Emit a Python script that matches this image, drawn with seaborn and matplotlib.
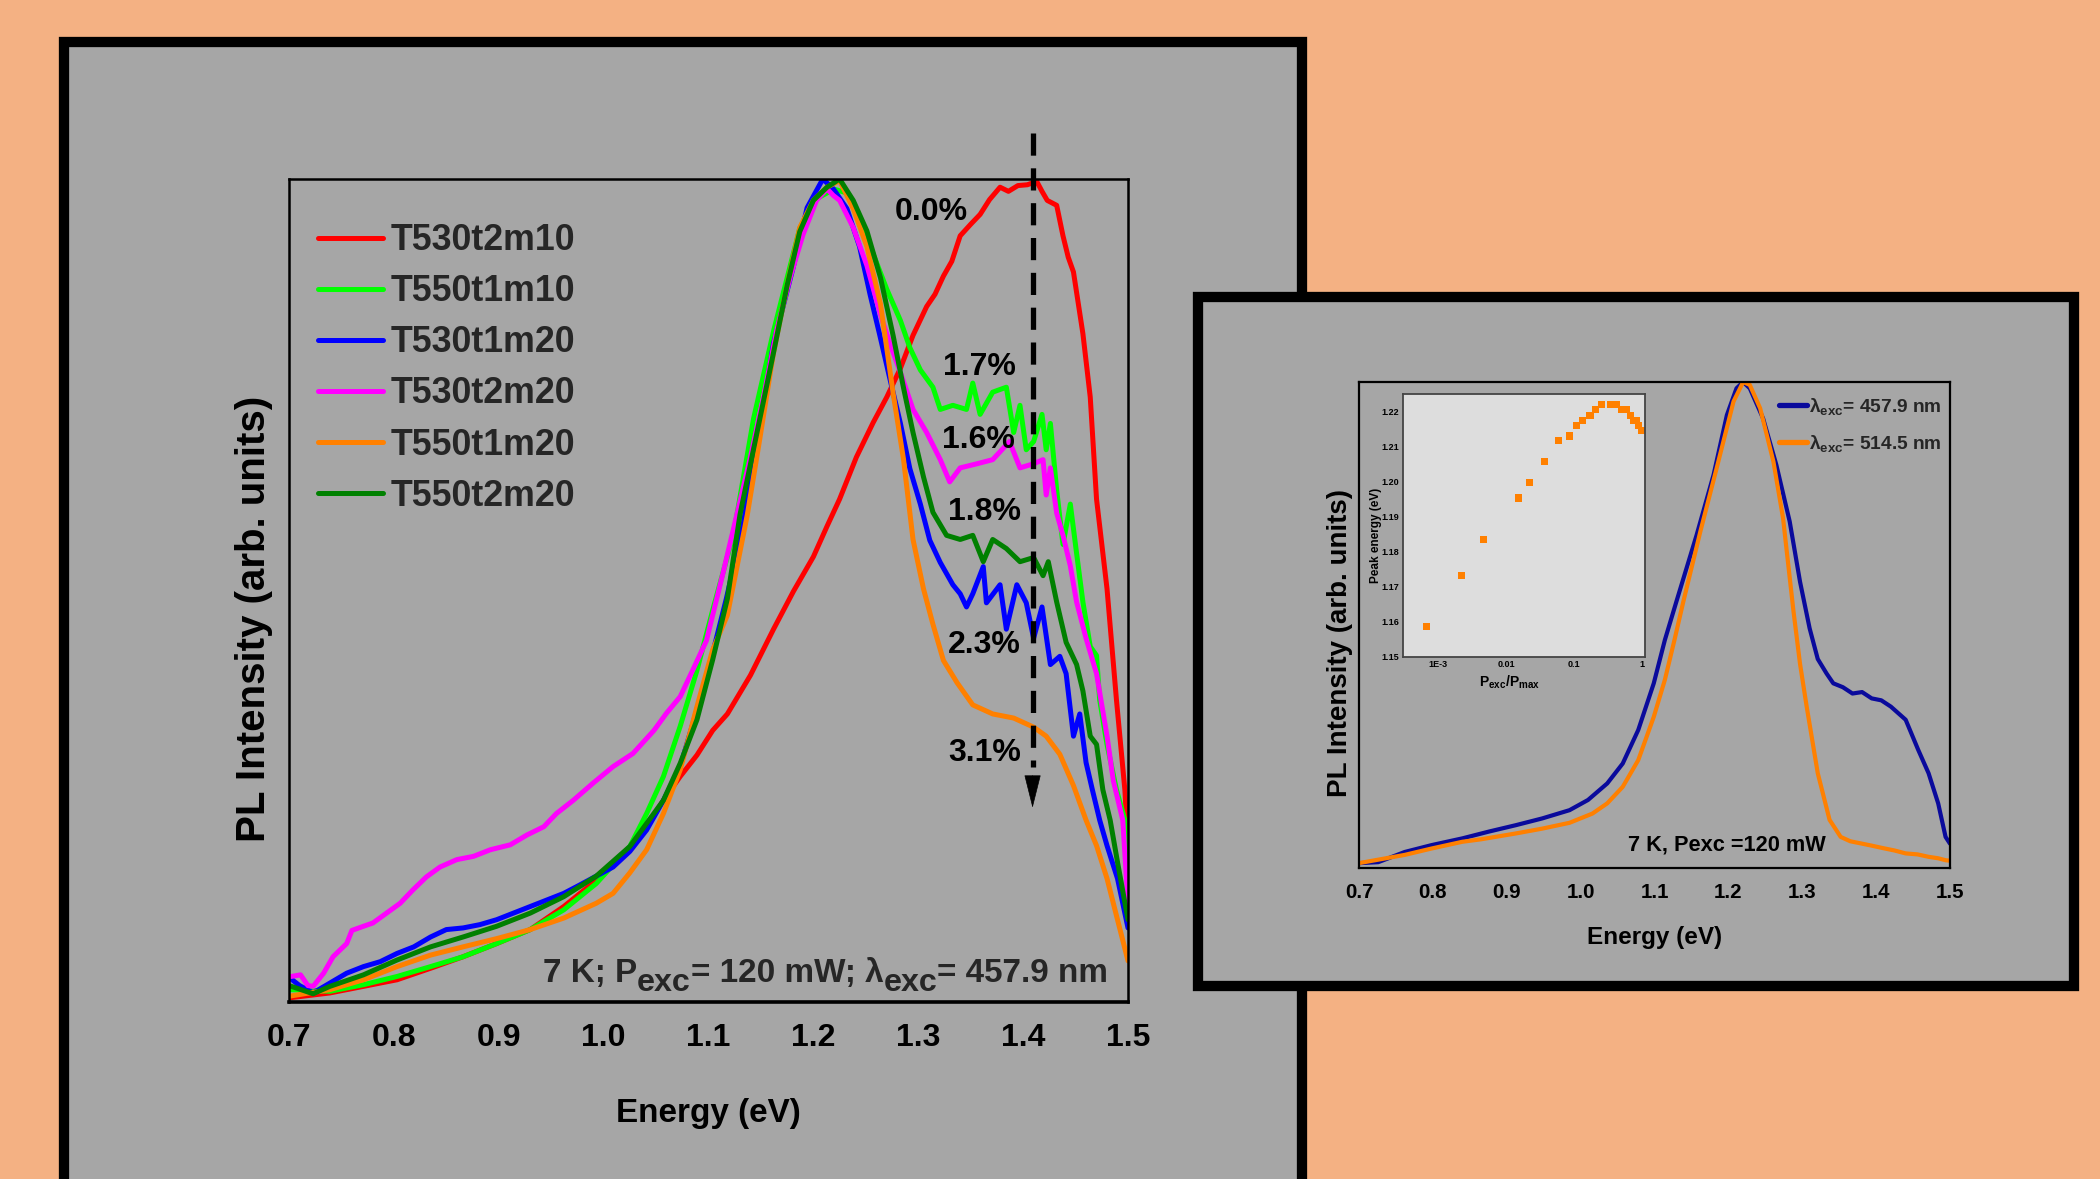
import matplotlib
matplotlib.use("Agg")
import matplotlib.pyplot as plt
from matplotlib import font_manager
from matplotlib.patches import Rectangle
from matplotlib.ticker import MultipleLocator, FixedLocator, FormatStrFormatter, LogLocator, NullFormatter
import seaborn as sns

# ---------------- data: main panel (normalised PL spectra) ----------------
series_names = ["T530t2m10", "T550t1m10", "T530t1m20", "T530t2m20", "T550t1m20", "T550t2m20"]
series_colors = ["#FF0000", "#00FF00", "#0000FF", "#FF00FF", "#FF8000", "#008000"]

red_E = [0.700, 0.739, 0.771, 0.803, 0.835, 0.866, 0.898, 0.930, 0.962, 0.993, 1.025, 1.041, 1.057, 1.073,
         1.089, 1.104, 1.118, 1.140, 1.162, 1.181, 1.200, 1.213, 1.225, 1.241, 1.257, 1.270, 1.283, 1.295,
         1.308, 1.316, 1.324, 1.332, 1.340, 1.350, 1.359, 1.368, 1.378, 1.386, 1.395, 1.404, 1.413, 1.418,
         1.423, 1.432, 1.438, 1.443, 1.448, 1.457, 1.464, 1.470, 1.480, 1.489, 1.497, 1.500]
red_I = [0.005, 0.011, 0.019, 0.027, 0.041, 0.055, 0.071, 0.088, 0.116, 0.148, 0.185, 0.213, 0.245, 0.274,
         0.300, 0.330, 0.350, 0.397, 0.453, 0.499, 0.541, 0.578, 0.611, 0.662, 0.704, 0.735, 0.770, 0.810,
         0.845, 0.860, 0.882, 0.900, 0.931, 0.945, 0.957, 0.975, 0.990, 0.985, 0.992, 0.993, 0.997, 0.985,
         0.974, 0.968, 0.931, 0.905, 0.887, 0.812, 0.735, 0.611, 0.502, 0.367, 0.258, 0.190]

lime_E = [0.700, 0.739, 0.771, 0.803, 0.835, 0.866, 0.898, 0.930, 0.962, 0.993, 1.025, 1.041, 1.057, 1.073,
          1.089, 1.104, 1.124, 1.143, 1.162, 1.175, 1.187, 1.200, 1.213, 1.219, 1.232, 1.244, 1.257, 1.270,
          1.283, 1.292, 1.302, 1.314, 1.321, 1.333, 1.346, 1.352, 1.359, 1.371, 1.384, 1.391, 1.397, 1.403,
          1.410, 1.418, 1.422, 1.426, 1.432, 1.438, 1.445, 1.451, 1.457, 1.464, 1.470, 1.473, 1.480, 1.489,
          1.497, 1.500]
lime_I = [0.015, 0.013, 0.021, 0.031, 0.043, 0.055, 0.071, 0.088, 0.112, 0.144, 0.189, 0.229, 0.274, 0.335,
          0.403, 0.476, 0.569, 0.709, 0.815, 0.880, 0.940, 0.974, 0.983, 0.988, 0.983, 0.950, 0.909, 0.866,
          0.828, 0.795, 0.768, 0.747, 0.720, 0.725, 0.720, 0.752, 0.714, 0.741, 0.747, 0.692, 0.725, 0.671,
          0.681, 0.714, 0.671, 0.703, 0.622, 0.556, 0.605, 0.545, 0.486, 0.432, 0.421, 0.367, 0.313, 0.258,
          0.221, 0.120]

blue_E = [0.700, 0.710, 0.723, 0.739, 0.755, 0.771, 0.787, 0.803, 0.819, 0.835, 0.850, 0.866, 0.882, 0.898,
          0.914, 0.930, 0.946, 0.962, 0.977, 0.993, 1.009, 1.025, 1.041, 1.057, 1.073, 1.089, 1.104, 1.117,
          1.133, 1.149, 1.162, 1.181, 1.194, 1.209, 1.219, 1.232, 1.244, 1.254, 1.263, 1.273, 1.283, 1.292,
          1.302, 1.311, 1.321, 1.333, 1.340, 1.346, 1.352, 1.362, 1.365, 1.378, 1.384, 1.394, 1.403, 1.410,
          1.418, 1.426, 1.435, 1.441, 1.448, 1.454, 1.460, 1.466, 1.473, 1.480, 1.490, 1.500]
blue_I = [0.030, 0.020, 0.011, 0.023, 0.035, 0.043, 0.049, 0.059, 0.067, 0.079, 0.088, 0.090, 0.094, 0.100,
          0.108, 0.116, 0.124, 0.132, 0.142, 0.153, 0.164, 0.183, 0.209, 0.245, 0.286, 0.355, 0.424, 0.490,
          0.580, 0.700, 0.800, 0.894, 0.965, 1.000, 0.988, 0.964, 0.918, 0.860, 0.812, 0.757, 0.703, 0.648,
          0.605, 0.561, 0.534, 0.507, 0.496, 0.480, 0.496, 0.529, 0.485, 0.507, 0.453, 0.507, 0.485, 0.442,
          0.480, 0.410, 0.420, 0.399, 0.323, 0.350, 0.291, 0.258, 0.221, 0.190, 0.150, 0.090]

mag_E = [0.702, 0.711, 0.718, 0.723, 0.733, 0.742, 0.755, 0.760, 0.771, 0.780, 0.793, 0.806, 0.818, 0.831,
         0.844, 0.860, 0.876, 0.892, 0.911, 0.927, 0.943, 0.955, 0.971, 0.990, 1.009, 1.028, 1.048, 1.060,
         1.073, 1.086, 1.098, 1.114, 1.127, 1.140, 1.152, 1.165, 1.178, 1.190, 1.203, 1.213, 1.219, 1.225,
         1.238, 1.251, 1.264, 1.273, 1.283, 1.295, 1.308, 1.321, 1.330, 1.340, 1.356, 1.371, 1.387, 1.397,
         1.410, 1.419, 1.422, 1.426, 1.432, 1.438, 1.445, 1.451, 1.460, 1.470, 1.480, 1.486, 1.495, 1.500]
mag_I = [0.031, 0.033, 0.020, 0.019, 0.035, 0.055, 0.071, 0.087, 0.092, 0.096, 0.108, 0.120, 0.136, 0.152,
         0.164, 0.173, 0.177, 0.185, 0.191, 0.203, 0.213, 0.229, 0.245, 0.266, 0.286, 0.302, 0.330, 0.351,
         0.371, 0.406, 0.439, 0.522, 0.592, 0.662, 0.732, 0.816, 0.881, 0.932, 0.974, 0.988, 0.980, 0.974,
         0.941, 0.895, 0.835, 0.800, 0.765, 0.720, 0.692, 0.659, 0.632, 0.649, 0.654, 0.659, 0.681, 0.649,
         0.654, 0.659, 0.616, 0.649, 0.594, 0.567, 0.530, 0.486, 0.442, 0.399, 0.323, 0.269, 0.221, 0.120]

org_E = [0.700, 0.739, 0.771, 0.803, 0.835, 0.866, 0.898, 0.930, 0.962, 0.993, 1.009, 1.025, 1.041, 1.057,
         1.073, 1.089, 1.104, 1.118, 1.137, 1.149, 1.162, 1.175, 1.187, 1.200, 1.213, 1.225, 1.238, 1.251,
         1.264, 1.276, 1.286, 1.295, 1.305, 1.314, 1.324, 1.337, 1.352, 1.371, 1.391, 1.410, 1.422, 1.435,
         1.448, 1.460, 1.470, 1.480, 1.490, 1.500]
org_I = [0.007, 0.015, 0.027, 0.043, 0.057, 0.067, 0.077, 0.088, 0.102, 0.120, 0.132, 0.157, 0.185, 0.229,
         0.282, 0.359, 0.428, 0.470, 0.592, 0.685, 0.789, 0.871, 0.941, 0.974, 0.990, 0.998, 0.964, 0.918,
         0.848, 0.740, 0.659, 0.562, 0.502, 0.459, 0.415, 0.388, 0.361, 0.350, 0.345, 0.334, 0.323, 0.301,
         0.263, 0.221, 0.190, 0.150, 0.100, 0.050]

dgr_E = [0.700, 0.723, 0.739, 0.771, 0.803, 0.835, 0.866, 0.898, 0.930, 0.962, 0.993, 1.025, 1.057, 1.073,
         1.089, 1.104, 1.118, 1.130, 1.149, 1.162, 1.175, 1.187, 1.200, 1.213, 1.225, 1.238, 1.251, 1.264,
         1.276, 1.286, 1.295, 1.305, 1.314, 1.327, 1.340, 1.352, 1.362, 1.371, 1.384, 1.397, 1.410, 1.419,
         1.424, 1.432, 1.441, 1.451, 1.457, 1.464, 1.470, 1.476, 1.483, 1.490, 1.500]
dgr_I = [0.020, 0.010, 0.019, 0.033, 0.051, 0.067, 0.079, 0.092, 0.108, 0.128, 0.153, 0.189, 0.245, 0.290,
         0.343, 0.416, 0.490, 0.592, 0.709, 0.789, 0.871, 0.936, 0.974, 0.990, 1.000, 0.974, 0.937, 0.880,
         0.810, 0.746, 0.692, 0.638, 0.595, 0.567, 0.562, 0.567, 0.535, 0.562, 0.551, 0.535, 0.540, 0.518,
         0.535, 0.486, 0.437, 0.410, 0.378, 0.323, 0.313, 0.258, 0.221, 0.170, 0.100]

pct_labels = ["0.0%", "1.7%", "1.6%", "1.8%", "2.3%", "3.1%"]
pct_E = [1.312, 1.358, 1.357, 1.363, 1.363, 1.363]
pct_I = [0.960, 0.772, 0.683, 0.595, 0.434, 0.303]

# ---------------- data: right panel ----------------
ins_names = ["457.9 nm", "514.5 nm"]
ins_colors = ["#0A0A9C", "#FF8000"]
navy_E = [0.700, 0.726, 0.762, 0.798, 0.840, 0.876, 0.912, 0.948, 0.985, 1.010, 1.036, 1.057, 1.078, 1.099,
          1.114, 1.130, 1.157, 1.180, 1.198, 1.211, 1.220, 1.229, 1.247, 1.265, 1.283, 1.297, 1.310, 1.321,
          1.333, 1.342, 1.355, 1.368, 1.381, 1.394, 1.407, 1.420, 1.440, 1.457, 1.471, 1.484, 1.494, 1.500]
navy_I = [0.010, 0.012, 0.033, 0.047, 0.061, 0.075, 0.088, 0.102, 0.119, 0.140, 0.174, 0.215, 0.284, 0.380,
          0.469, 0.550, 0.685, 0.809, 0.932, 0.987, 1.000, 0.987, 0.925, 0.829, 0.713, 0.589, 0.493, 0.430,
          0.400, 0.380, 0.372, 0.359, 0.362, 0.349, 0.345, 0.332, 0.305, 0.243, 0.195, 0.133, 0.064, 0.050]
ora_E = [0.700, 0.762, 0.798, 0.840, 0.865, 0.912, 0.948, 0.985, 1.016, 1.036, 1.057, 1.078, 1.099, 1.114,
         1.127, 1.139, 1.162, 1.184, 1.207, 1.220, 1.229, 1.243, 1.261, 1.274, 1.288, 1.297, 1.306, 1.321,
         1.337, 1.352, 1.365, 1.378, 1.394, 1.409, 1.425, 1.440, 1.456, 1.471, 1.484, 1.494, 1.500]
ora_I = [0.010, 0.027, 0.040, 0.054, 0.059, 0.071, 0.081, 0.093, 0.112, 0.133, 0.167, 0.222, 0.311, 0.387,
         0.469, 0.548, 0.692, 0.822, 0.960, 1.000, 0.994, 0.946, 0.836, 0.720, 0.530, 0.420, 0.332, 0.195,
         0.099, 0.064, 0.055, 0.051, 0.046, 0.041, 0.036, 0.030, 0.028, 0.023, 0.020, 0.016, 0.015]

# peak energy vs relative excitation power (small inset)
p_rel = [6.8e-4, 2.23e-3, 4.64e-3, 0.0152, 0.0219, 0.0372, 0.0591, 0.085, 0.110, 0.135, 0.173, 0.210,
         0.258, 0.341, 0.419, 0.508, 0.548, 0.588, 0.673, 0.754, 0.844, 0.905, 1.0]
e_peak = [1.1586, 1.1732, 1.1835, 1.1954, 1.1998, 1.2058, 1.2117, 1.2131, 1.2161, 1.2175, 1.2189, 1.2206,
          1.2220, 1.2220, 1.2220, 1.2206, 1.2206, 1.2206, 1.2189, 1.2175, 1.2175, 1.2161, 1.2147]
sub_xticks = [1e-3, 1e-2, 1e-1, 1.0]
sub_xticklabels = ["1E-3", "0.01", "0.1", "1"]

# ---------------- style ----------------
sns.set_style("white")


def has_font(name):
    try:
        font_manager.findfont(font_manager.FontProperties(family=name, weight="bold"),
                              fallback_to_default=False)
        return True
    except Exception:
        return False


NARROW = "Liberation Sans Narrow" if has_font("Liberation Sans Narrow") else "Liberation Sans"
NF = 1.0 if NARROW == "Liberation Sans Narrow" else 0.92
REG = ["Liberation Sans", "DejaVu Sans"]
plt.rcParams["font.family"] = [NARROW, "DejaVu Sans"]
plt.rcParams["font.weight"] = "bold"
plt.rcParams["mathtext.fontset"] = "custom"
plt.rcParams["mathtext.rm"] = NARROW + ":bold"
plt.rcParams["mathtext.it"] = NARROW + ":bold"
plt.rcParams["mathtext.bf"] = NARROW + ":bold"

PEACH = "#F4B183"
GRAY = "#A6A6A6"
W, H = 2100, 1179

fig = plt.figure(figsize=(21, 11.79), dpi=100)
fig.patch.set_facecolor(PEACH)


def fx(px):
    return px / W


def fy(py):
    return 1 - py / H


# panel boxes
fig.add_artist(Rectangle((fx(64), fy(1260)), fx(1302) - fx(64), fy(42) - fy(1260), transform=fig.transFigure,
                         facecolor=GRAY, edgecolor="black", lw=7.4, zorder=-2))
fig.add_artist(Rectangle((fx(1198), fy(986)), fx(2074) - fx(1198), fy(297) - fy(986), transform=fig.transFigure,
                         facecolor=GRAY, edgecolor="black", lw=7.4, zorder=-1))

# ---------------- main axes ----------------
ax = fig.add_axes([fx(289), fy(1002), fx(1128) - fx(289), fy(179) - fy(1002)])
ax.set_facecolor(GRAY)
main_E = [red_E, lime_E, blue_E, mag_E, org_E, dgr_E]
main_I = [red_I, lime_I, blue_I, mag_I, org_I, dgr_I]
for E, I, c in zip(main_E, main_I, series_colors):
    sns.lineplot(x=E, y=I, ax=ax, color=c, lw=3.6, sort=False, estimator=None, legend=False)
for ln in ax.lines:
    ln.set_solid_capstyle("round")

ax.set_xlim(0.7, 1.5)
ax.set_ylim(0.0, 1.0)
ax.xaxis.set_major_locator(MultipleLocator(0.1))
ax.xaxis.set_minor_locator(MultipleLocator(0.02))
ax.xaxis.set_major_formatter(FormatStrFormatter("%.1f"))
ax.set_yticks([])
ax.tick_params(axis="x", which="major", direction="out", length=7, width=1.6, pad=8,
               labelsize=25 * NF, colors="black")
ax.tick_params(axis="x", which="minor", direction="out", length=3.6, width=1.6)
for sp in ax.spines.values():
    sp.set_linewidth(1.8)
    sp.set_color("black")
ax.spines["bottom"].set_linewidth(2.6)

ax.set_xlabel("Energy (eV)", fontsize=26 * NF, fontweight="bold", color="black")
ax.xaxis.set_label_coords(0.5, -0.136)
ax.xaxis.label.set_va("center")
ax.set_ylabel("PL Intensity (arb. units)", fontsize=29, fontweight="bold", fontfamily=REG, color="black")
ax.yaxis.set_label_coords(-0.042, 0.465)
ax.yaxis.label.set_va("center")

LFS = 28 * NF
ax.legend(handles=ax.lines[:6], labels=series_names, loc="upper left",
          bbox_to_anchor=(0.0346, 0.9463), frameon=False,
          prop=dict(family=NARROW, weight="bold", size=LFS), handlelength=1.82,
          handletextpad=0.22, labelspacing=0.45, borderaxespad=0.0, borderpad=0.0)

for lab, xe, yi in zip(pct_labels, pct_E, pct_I):
    ax.text(xe, yi, lab, ha="center", va="center", fontsize=25 * NF, fontweight="bold", color="black")

# dashed arrow
arrow_x, arrow_top, arrow_head, arrow_tip = 1.409, 1.056, 0.275, 0.236
ax.plot([arrow_x, arrow_x], [arrow_top, arrow_head + 0.01], color="black", lw=3.8,
        ls=(0, (4.2, 2.4)), clip_on=False, zorder=5)
ax.annotate("", xy=(arrow_x, arrow_tip), xytext=(arrow_x, arrow_head),
            arrowprops=dict(arrowstyle="-|>,head_length=2.2,head_width=0.55", color="black", lw=0.5,
                            mutation_scale=10, shrinkA=0, shrinkB=0), zorder=5)

# condition text with large subscripts
FS = 26 * NF
SUBF = 0.97
DROP = 6.5
pieces = [("= 120 mW; λ", False), ("exc", True), ("= 457.9 nm", False)]
t = ax.text(0.942, 0.024, "7 K; P", va="baseline", ha="left", fontsize=FS, fontweight="bold")
sub = ax.annotate("exc", xy=(1, 0), xycoords=t, xytext=(0, -DROP), textcoords="offset points",
                  va="bottom", ha="left", fontsize=FS * SUBF, fontweight="bold")
prev, prev_sub = sub, True
for txt, is_sub in pieces:
    dy = -DROP if is_sub else (DROP if prev_sub else 0)
    prev = ax.annotate(txt, xy=(1, 0), xycoords=prev, xytext=(0, dy), textcoords="offset points",
                       va="bottom", ha="left", fontsize=FS * (SUBF if is_sub else 1.0), fontweight="bold")
    prev_sub = is_sub

# ---------------- right panel axes ----------------
ax2 = fig.add_axes([fx(1359), fy(868), fx(1950) - fx(1359), fy(382) - fy(868)])
ax2.set_facecolor(GRAY)
for E, I, c in zip([navy_E, ora_E], [navy_I, ora_I], ins_colors):
    sns.lineplot(x=E, y=I, ax=ax2, color=c, lw=3.0, sort=False, estimator=None, legend=False)
ax2.set_xlim(0.7, 1.5)
ax2.set_ylim(0.0, 1.0)
ax2.xaxis.set_major_locator(MultipleLocator(0.1))
ax2.xaxis.set_minor_locator(MultipleLocator(0.02))
ax2.xaxis.set_major_formatter(FormatStrFormatter("%.1f"))
ax2.set_yticks([])
ax2.tick_params(axis="x", which="major", direction="out", length=5.5, width=1.3, pad=5,
                labelsize=16 * NF, colors="black")
ax2.tick_params(axis="x", which="minor", direction="out", length=3, width=1.3)
for sp in ax2.spines.values():
    sp.set_linewidth(1.6)
    sp.set_color("black")
ax2.set_xlabel("Energy (eV)", fontsize=19 * NF, fontweight="bold", color="black")
ax2.xaxis.set_label_coords(0.5, -0.144)
ax2.xaxis.label.set_va("center")
ax2.set_ylabel("PL Intensity (arb. units)", fontsize=20, fontweight="bold", fontfamily=REG, color="black")
ax2.yaxis.set_label_coords(-0.032, 0.463)
ax2.yaxis.label.set_va("center")
leg2 = ax2.legend(handles=ax2.lines[:2], labels=[r"λ$_{exc}$= " + n for n in ins_names], loc="upper right",
                  bbox_to_anchor=(0.9865, 0.972), frameon=False,
                  prop=dict(family=NARROW, weight="bold", size=15 * NF), handlelength=1.5,
                  handletextpad=0.1, labelspacing=0.86, borderaxespad=0.0, borderpad=0.0)
for hl in leg2.get_lines():
    hl.set_linewidth(3.8)
ax2.text(1.198, 0.047, "7 K, Pexc =120 mW", ha="center", va="center", fontsize=17 * NF,
         fontweight="bold", color="black")

# ---------------- small inset ----------------
ax3 = fig.add_axes([fx(1403), fy(657), fx(1645) - fx(1403), fy(394) - fy(657)])
ax3.set_facecolor("#DDDDDD")
sns.scatterplot(x=p_rel, y=e_peak, ax=ax3, marker="s", s=26, color="#FF8000", edgecolor="none",
                legend=False)
ax3.set_xscale("log")
ax3.set_xlim(3.05e-4, 1.115)
ax3.set_ylim(1.15, 1.2251)
ax3.xaxis.set_major_locator(FixedLocator(sub_xticks))
ax3.set_xticklabels(sub_xticklabels)
ax3.xaxis.set_minor_locator(LogLocator(base=10, subs=[2, 3, 4, 5, 6, 7, 8, 9], numticks=20))
ax3.xaxis.set_minor_formatter(NullFormatter())
ax3.yaxis.set_major_locator(MultipleLocator(0.01))
ax3.yaxis.set_minor_locator(MultipleLocator(0.002))
ax3.yaxis.set_major_formatter(FormatStrFormatter("%.2f"))
ax3.tick_params(which="major", direction="in", length=2.6, width=0.9, pad=2.5, labelsize=7 * NF,
                colors="black")
ax3.tick_params(which="minor", direction="in", length=1.5, width=0.8)
for sp in ax3.spines.values():
    sp.set_linewidth(1.3)
    sp.set_color("#444444")
ax3.set_ylabel("Peak energy (eV)", fontsize=8.5, fontweight="bold", fontfamily=REG, color="black")
ax3.yaxis.set_label_coords(-0.113, 0.464)
ax3.yaxis.label.set_va("center")
ax3.set_xlabel(r"P$_{exc}$/P$_{max}$", fontsize=11 * NF, fontweight="bold", color="black")
ax3.xaxis.set_label_coords(0.44, -0.095)
ax3.xaxis.label.set_va("center")

fig.savefig("out.png", dpi=100, facecolor=PEACH)
